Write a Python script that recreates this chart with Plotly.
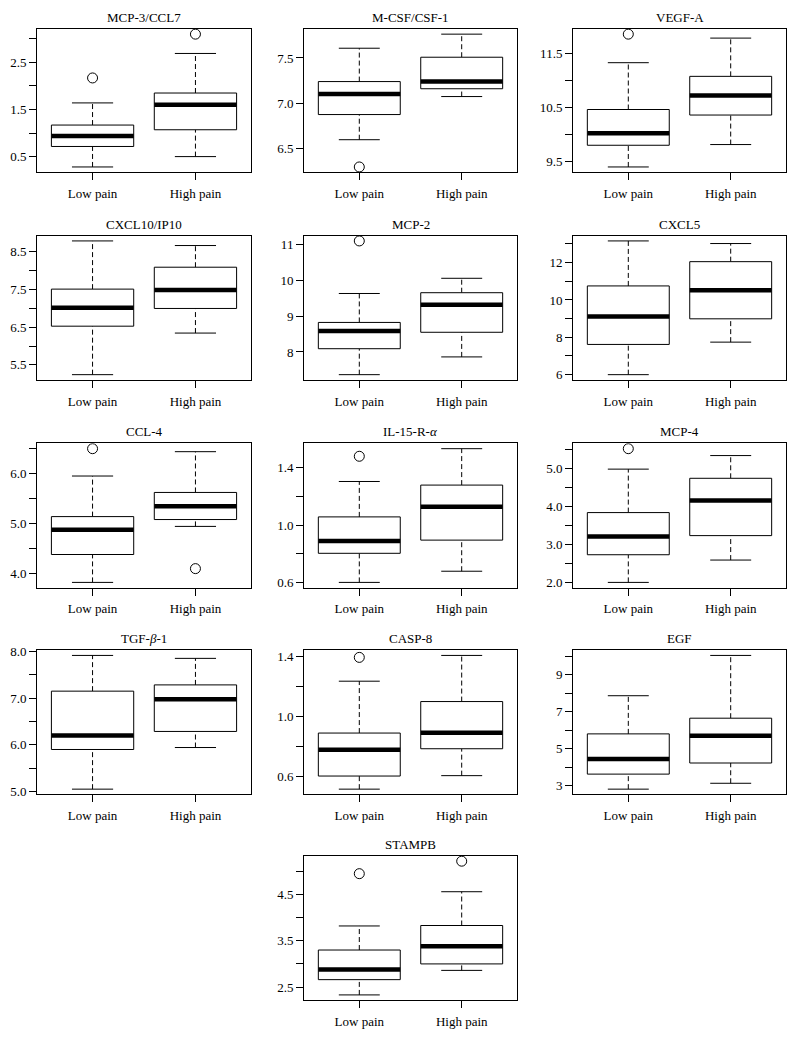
import plotly.graph_objects as go

# ---------------- data ----------------
panel_titles = ["MCP-3/CCL7", "M-CSF/CSF-1", "VEGF-A",
                "CXCL10/IP10", "MCP-2", "CXCL5",
                "CCL-4", "IL-15-R-<i>α</i>", "MCP-4",
                "TGF-<i>β</i>-1", "CASP-8", "EGF",
                "STAMPB"]
groups = ["Low pain", "High pain"]

low_min    = [0.28, 6.60, 9.405, 5.24, 7.365, 6.00, 3.83, 0.600, 2.00, 5.056, 0.517, 2.824, 2.33]
low_q1     = [0.715, 6.877, 9.805, 6.526, 8.092, 7.619, 4.387, 0.803, 2.73, 5.902, 0.604, 3.635, 2.66]
low_median = [0.935, 7.103, 10.027, 7.013, 8.589, 9.115, 4.879, 0.888, 3.209, 6.203, 0.778, 4.447, 2.88]
low_q3     = [1.17, 7.24, 10.464, 7.509, 8.828, 10.751, 5.144, 1.057, 3.843, 7.147, 0.889, 5.806, 3.30]
low_max    = [1.64, 7.607, 11.327, 8.787, 9.638, 13.16, 5.954, 1.304, 4.99, 7.909, 1.233, 7.865, 3.82]
low_outliers = [[2.17], [6.30], [11.853], [], [11.11], [], [6.50], [1.48], [5.53], [], [1.391], [], [4.95]]

high_min    = [0.50, 7.075, 9.818, 6.343, 7.862, 7.742, 4.948, 0.678, 2.59, 5.944, 0.6065, 3.141, 2.86]
high_q1     = [1.07, 7.161, 10.362, 6.996, 8.552, 8.99, 5.085, 0.895, 3.235, 6.287, 0.785, 4.235, 3.00]
high_median = [1.60, 7.24, 10.72, 7.483, 9.322, 10.522, 5.351, 1.128, 4.165, 6.972, 0.891, 5.70, 3.38]
high_q3     = [1.85, 7.508, 11.075, 8.09, 9.66, 12.05, 5.626, 1.279, 4.748, 7.28, 1.098, 6.653, 3.83]
high_max    = [2.69, 7.762, 11.78, 8.665, 10.064, 13.02, 6.44, 1.533, 5.348, 7.846, 1.404, 10.04, 4.56]
high_outliers = [[3.10], [], [], [], [], [], [4.105], [], [], [], [], [], [5.22]]

y_tickvals = [
    [0.5, 1.0, 1.5, 2.0, 2.5, 3.0],
    [6.5, 7.0, 7.5],
    [9.5, 10.0, 10.5, 11.0, 11.5],
    [5.5, 6.0, 6.5, 7.0, 7.5, 8.0, 8.5],
    [8, 9, 10, 11],
    [6, 7, 8, 9, 10, 11, 12, 13],
    [4.0, 4.5, 5.0, 5.5, 6.0, 6.5],
    [0.6, 0.8, 1.0, 1.2, 1.4],
    [2.0, 2.5, 3.0, 3.5, 4.0, 4.5, 5.0, 5.5],
    [5.0, 5.5, 6.0, 6.5, 7.0, 7.5, 8.0],
    [0.6, 0.8, 1.0, 1.2, 1.4],
    [3, 4, 5, 6, 7, 8, 9, 10],
    [2.5, 3.0, 3.5, 4.0, 4.5, 5.0],
]
y_ticktext = [
    ["0.5", "", "1.5", "", "2.5", ""],
    ["6.5", "7.0", "7.5"],
    ["9.5", "", "10.5", "", "11.5"],
    ["5.5", "", "6.5", "", "7.5", "", "8.5"],
    ["8", "9", "10", "11"],
    ["6", "", "8", "", "10", "", "12", ""],
    ["4.0", "", "5.0", "", "6.0", ""],
    ["0.6", "", "1.0", "", "1.4"],
    ["2.0", "", "3.0", "", "4.0", "", "5.0", ""],
    ["5.0", "", "6.0", "", "7.0", "", "8.0"],
    ["0.6", "", "1.0", "", "1.4"],
    ["3", "", "5", "", "7", "", "9", ""],
    ["2.5", "", "3.5", "", "4.5", ""],
]

# ---------------- layout geometry (window pixels) ----------------
# the page body has an 8px margin, so the figure is offset and sized to fit
OFF = 8
W, H = 795 - 2 * OFF, 1037 - 2 * OFF
col_px = [(37, 251), (304, 517), (573, 786)]
row_px = [(23, 168), (232, 378), (442, 588), (651, 797), (859, 1005)]
panel_cells = [(r, c) for r in range(4) for c in range(3)] + [(4, 1)]

FONT = "Liberation Serif, Times New Roman, serif"
FS = 13
BW = 0.4   # half box width
CW = 0.2   # half cap width
DASH = "5px,3px"

fig = go.Figure()
layout = dict(
    width=W, height=H, margin=dict(l=0, r=0, t=0, b=0),
    paper_bgcolor="white", plot_bgcolor="white", showlegend=False,
    font=dict(family=FONT, size=FS, color="black"),
)
annotations = []

for i, title in enumerate(panel_titles):
    r, c = panel_cells[i]
    x0, x1 = (p - OFF for p in col_px[c])
    y0, y1 = (p - OFF for p in row_px[r])
    xa = "x" if i == 0 else f"x{i+1}"
    ya = "y" if i == 0 else f"y{i+1}"
    stats = [
        (1, low_min[i], low_q1[i], low_median[i], low_q3[i], low_max[i], low_outliers[i]),
        (2, high_min[i], high_q1[i], high_median[i], high_q3[i], high_max[i], high_outliers[i]),
    ]
    allv = []
    for pos, mn, q1, md, q3, mx, outs in stats:
        allv += [mn, q1, md, q3, mx] + list(outs)
        fig.add_trace(go.Scatter(x=[pos, pos, None, pos, pos], y=[mn, q1, None, q3, mx],
                                 mode="lines", line=dict(color="black", width=1, dash=DASH),
                                 xaxis=xa, yaxis=ya, hoverinfo="skip"))
        fig.add_trace(go.Scatter(x=[pos - CW, pos + CW, None, pos - CW, pos + CW],
                                 y=[mn, mn, None, mx, mx],
                                 mode="lines", line=dict(color="black", width=1),
                                 xaxis=xa, yaxis=ya, hoverinfo="skip"))
        fig.add_trace(go.Scatter(x=[pos - BW, pos + BW, pos + BW, pos - BW, pos - BW],
                                 y=[q1, q1, q3, q3, q1], mode="lines",
                                 fill="toself", fillcolor="white",
                                 line=dict(color="black", width=1),
                                 xaxis=xa, yaxis=ya, hoverinfo="skip"))
        fig.add_trace(go.Scatter(x=[pos - BW, pos + BW], y=[md, md], mode="lines",
                                 line=dict(color="black", width=4.5),
                                 xaxis=xa, yaxis=ya, hoverinfo="skip"))
        if outs:
            fig.add_trace(go.Scatter(x=[pos] * len(outs), y=outs, mode="markers",
                                     marker=dict(symbol="circle-open", size=10,
                                                 color="black", line=dict(width=1)),
                                     xaxis=xa, yaxis=ya, hoverinfo="skip"))
    lo, hi = min(allv), max(allv)
    pad = (hi - lo) * 0.04
    layout["xaxis" if i == 0 else f"xaxis{i+1}"] = dict(
        domain=[x0 / W, min(1.0, x1 / W)], anchor=ya, range=[0.46, 2.54],
        tickvals=[1, 2], ticktext=groups, ticks="outside", ticklen=7,
        tickcolor="black", showline=True, linecolor="black", linewidth=1,
        mirror=True, showgrid=False, zeroline=False, ticklabelstandoff=2,
        tickfont=dict(family=FONT, size=FS),
    )
    layout["yaxis" if i == 0 else f"yaxis{i+1}"] = dict(
        domain=[1 - y1 / H, 1 - y0 / H], anchor=xa, range=[lo - pad, hi + pad],
        tickvals=y_tickvals[i], ticktext=y_ticktext[i], ticks="outside", ticklen=7,
        tickcolor="black", showline=True, linecolor="black", linewidth=1,
        mirror=True, showgrid=False, zeroline=False,
        tickfont=dict(family=FONT, size=FS),
    )
    annotations.append(dict(
        text=title, x=(x0 + x1) / 2 / W, y=1 - (y0 - 2) / H,
        xref="paper", yref="paper", xanchor="center", yanchor="bottom",
        showarrow=False, font=dict(family=FONT, size=FS),
    ))

layout["annotations"] = annotations
fig.update_layout(**layout)
fig.write_html("out.html")
